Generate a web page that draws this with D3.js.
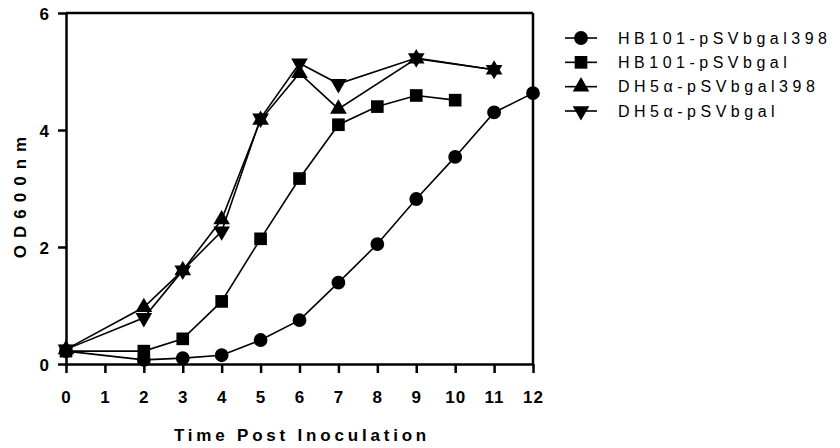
<!DOCTYPE html>
<html><head><meta charset="utf-8">
<script src="https://cdn.jsdelivr.net/npm/d3@7"></script>
<style>
html,body{margin:0;padding:0;background:#fff;}
svg text{font-family:"Liberation Sans",Arial,sans-serif;fill:#000;}
</style></head>
<body><svg id="chart" width="840" height="448"></svg>
<script>
const xTicks = [0,1,2,3,4,5,6,7,8,9,10,11,12];
const yTicks = [0,2,4,6];
const seriesNames = ["HB101-pSVbgal398","HB101-pSVbgal","DH5\u03b1-pSVbgal398","DH5\u03b1-pSVbgal"];
const hb398X = [0,2,3,4,5,6,7,8,9,10,11,12];
const hb398Y = [0.22,0.07,0.10,0.15,0.41,0.75,1.39,2.05,2.82,3.54,4.30,4.63];
const hbX = [0,2,3,4,5,6,7,8,9,10];
const hbY = [0.22,0.22,0.43,1.07,2.14,3.17,4.09,4.40,4.59,4.51];
const dh398X = [0,2,3,4,5,6,7,9,11];
const dh398Y = [0.25,0.97,1.60,2.47,4.17,4.97,4.36,5.22,5.03];
const dhX = [0,2,3,4,5,6,7,9,11];
const dhY = [0.25,0.79,1.60,2.27,4.20,5.14,4.79,5.23,5.03];
const markers = ["circle","square","triUp","triDown"];

const series = [
  {name:seriesNames[0], xs:hb398X, ys:hb398Y, m:markers[0]},
  {name:seriesNames[1], xs:hbX, ys:hbY, m:markers[1]},
  {name:seriesNames[2], xs:dh398X, ys:dh398Y, m:markers[2]},
  {name:seriesNames[3], xs:dhX, ys:dhY, m:markers[3]}
];

const svg = d3.select("#chart");
const x = d3.scaleLinear().domain([0,12]).range([66,533]);
const y = d3.scaleLinear().domain([0,6]).range([364,13]);

const symGen = {
  circle: d3.symbol().type(d3.symbolCircle).size(150),
  square: d3.symbol().type(d3.symbolSquare).size(160),
  triUp: d3.symbol().type(d3.symbolTriangle).size(120),
  triDown: d3.symbol().type(d3.symbolTriangle).size(120)
};

// frame (top & right)
svg.append("line").attr("x1",x(0)).attr("x2",x(12)).attr("y1",y(6)).attr("y2",y(6)).attr("stroke","#000").attr("stroke-width",2.5);
svg.append("line").attr("x1",x(12)).attr("x2",x(12)).attr("y1",y(6)).attr("y2",y(0)).attr("stroke","#000").attr("stroke-width",2.5);

// axes
const xAxis = d3.axisBottom(x).tickValues(xTicks).tickSize(9).tickPadding(18).tickSizeOuter(0).tickFormat(d3.format("d"));
const gx = svg.append("g").attr("transform",`translate(0,${y(0)})`).call(xAxis);
const yAxis = d3.axisLeft(y).tickValues(yTicks).tickSize(8).tickPadding(8).tickSizeOuter(0).tickFormat(d3.format("d"));
const gy = svg.append("g").attr("transform",`translate(${x(0)},0)`).call(yAxis);
[gx,gy].forEach(g=>{
  g.select(".domain").attr("stroke","#000").attr("stroke-width",2.5);
  g.selectAll(".tick line").attr("stroke","#000").attr("stroke-width",2.5);
  g.selectAll(".tick text").style("font-family","'Liberation Sans',Arial,sans-serif")
    .style("font-size","17px").style("font-weight","bold").style("letter-spacing","1px").attr("fill","#000");
});
gy.selectAll(".tick text").attr("dy","0.36em");

// lines and markers
const line = d3.line().x(d=>x(d[0])).y(d=>y(d[1]));
series.forEach(s=>{
  const pts = s.xs.map((v,i)=>[v,s.ys[i]]);
  svg.append("path").datum(pts).attr("d",line).attr("fill","none").attr("stroke","#000").attr("stroke-width",1.6);
});
series.forEach(s=>{
  const pts = s.xs.map((v,i)=>[v,s.ys[i]]);
  svg.append("g").selectAll("path").data(pts).join("path")
    .attr("d", symGen[s.m]()).attr("fill","#000")
    .attr("transform", d=>`translate(${x(d[0])},${y(d[1])})` + (s.m==="triDown"?" rotate(180)":""));
});

// axis titles
svg.append("text").attr("x",302).attr("y",441).attr("text-anchor","middle")
  .style("font-size","17px").style("font-weight","bold").style("letter-spacing","3.8px")
  .text("Time Post Inoculation");
svg.append("text").attr("transform","translate(26,194) rotate(-90)").attr("text-anchor","middle")
  .style("font-size","17px").style("font-weight","bold").style("letter-spacing","7px")
  .text("OD600nm");

// legend
const legY = d3.scalePoint().domain(seriesNames).range([38,111]);
const leg = svg.append("g");
series.forEach(s=>{
  const yy = legY(s.name);
  leg.append("line").attr("x1",565).attr("x2",597).attr("y1",yy).attr("y2",yy).attr("stroke","#000").attr("stroke-width",1.6);
  leg.append("path").attr("d",symGen[s.m]()).attr("fill","#000")
    .attr("transform",`translate(581,${yy})`+(s.m==="triDown"?" rotate(180)":""));
  leg.append("text").attr("x",618).attr("y",yy).attr("dy","0.36em")
    .style("font-size","16px").style("letter-spacing","4.5px").text(s.name);
});
</script></body></html>
